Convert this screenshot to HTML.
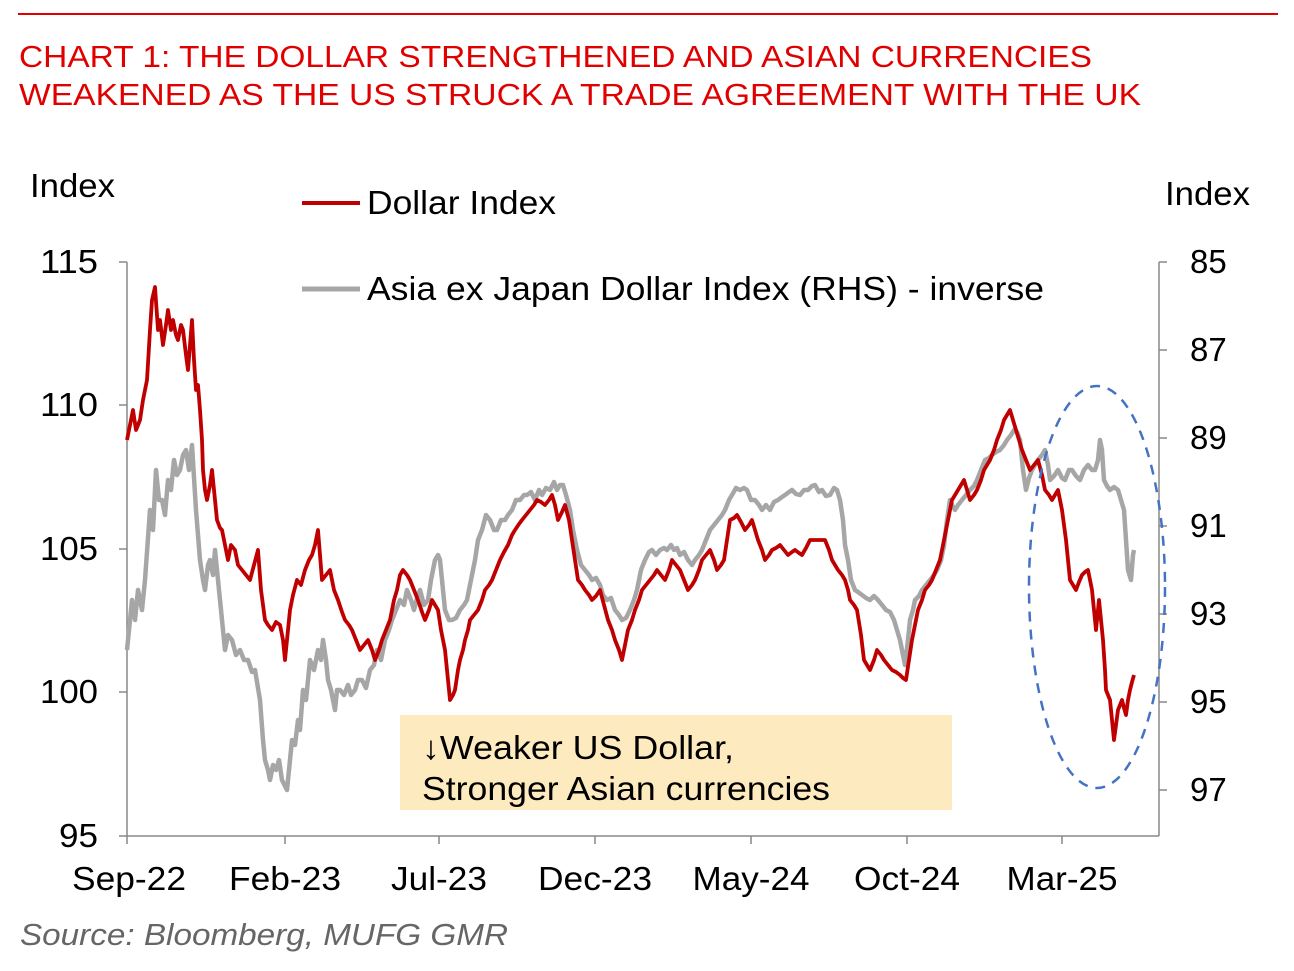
<!DOCTYPE html>
<html><head><meta charset="utf-8"><style>
body{margin:0;background:#fff;}
svg text{font-family:"Liberation Sans",Arial,sans-serif;}
</style></head><body>
<svg width="1294" height="966" viewBox="0 0 1294 966" xmlns="http://www.w3.org/2000/svg">
<line x1="18" y1="14" x2="1278" y2="14" stroke="#e00000" stroke-width="2"/>
<text x="19" y="67" font-size="31" fill="#e00000" textLength="1073" lengthAdjust="spacingAndGlyphs">CHART 1: THE DOLLAR STRENGTHENED AND ASIAN CURRENCIES</text>
<text x="19" y="105" font-size="31" fill="#e00000" textLength="1122" lengthAdjust="spacingAndGlyphs">WEAKENED AS THE US STRUCK A TRADE AGREEMENT WITH THE UK</text>
<rect x="400" y="715" width="552" height="95" fill="#fdebbf"/>
<text x="422" y="759" font-size="33" fill="#000" textLength="312" lengthAdjust="spacingAndGlyphs">↓Weaker US Dollar,</text>
<text x="422" y="800" font-size="33" fill="#000" textLength="408" lengthAdjust="spacingAndGlyphs">Stronger Asian currencies</text>
<g stroke="#888" stroke-width="1.5" fill="none">
<line x1="127" y1="262" x2="127" y2="836"/>
<line x1="127" y1="836" x2="1159" y2="836"/>
<line x1="1159" y1="262" x2="1159" y2="836"/>
<path d="M119 262H127M119 405H127M119 549H127M119 692H127M119 836H127"/>
<path d="M1159 262H1167M1159 350H1167M1159 438H1167M1159 526H1167M1159 614H1167M1159 702H1167M1159 790H1167"/>
<path d="M127 836V844M285 836V844M439 836V844M595 836V844M751 836V844M907 836V844M1062 836V844"/>
</g>
<g font-size="33" fill="#000">
<text x="98" y="273" text-anchor="end" textLength="58" lengthAdjust="spacingAndGlyphs">115</text>
<text x="98" y="416" text-anchor="end" textLength="58" lengthAdjust="spacingAndGlyphs">110</text>
<text x="98" y="560" text-anchor="end" textLength="58" lengthAdjust="spacingAndGlyphs">105</text>
<text x="98" y="703" text-anchor="end" textLength="58" lengthAdjust="spacingAndGlyphs">100</text>
<text x="98" y="847" text-anchor="end" textLength="39" lengthAdjust="spacingAndGlyphs">95</text>
<text x="1190" y="273">85</text>
<text x="1190" y="361">87</text>
<text x="1190" y="449">89</text>
<text x="1190" y="537">91</text>
<text x="1190" y="625">93</text>
<text x="1190" y="713">95</text>
<text x="1190" y="801">97</text>
<g text-anchor="middle">
<text x="129" y="890" textLength="114" lengthAdjust="spacingAndGlyphs">Sep-22</text>
<text x="285" y="890" textLength="112" lengthAdjust="spacingAndGlyphs">Feb-23</text>
<text x="439" y="890" textLength="96" lengthAdjust="spacingAndGlyphs">Jul-23</text>
<text x="595" y="890" textLength="114" lengthAdjust="spacingAndGlyphs">Dec-23</text>
<text x="751" y="890" textLength="117" lengthAdjust="spacingAndGlyphs">May-24</text>
<text x="907" y="890" textLength="106" lengthAdjust="spacingAndGlyphs">Oct-24</text>
<text x="1062" y="890" textLength="111" lengthAdjust="spacingAndGlyphs">Mar-25</text>
</g>
<text x="30" y="197" textLength="85" lengthAdjust="spacingAndGlyphs">Index</text>
<text x="1165" y="205" textLength="85" lengthAdjust="spacingAndGlyphs">Index</text>
<text x="367" y="214" textLength="189" lengthAdjust="spacingAndGlyphs">Dollar Index</text>
<text x="367" y="300" textLength="677" lengthAdjust="spacingAndGlyphs">Asia ex Japan Dollar Index (RHS) - inverse</text>
</g>
<line x1="302" y1="203" x2="360" y2="203" stroke="#c00000" stroke-width="4"/>
<line x1="302" y1="289" x2="360" y2="289" stroke="#a6a6a6" stroke-width="5"/>
<polyline fill="none" stroke="#a6a6a6" stroke-width="4.5" stroke-linejoin="round" points="127,650 132,600 135,620 138,590 142,610 145,580 150,510 153,530 156,470 159,500 162,500 165,515 168,480 171,490 174,460 177,475 180,470 183,455 186,450 189,470 192,445 196,510 200,560 203,580 205,590 208,565 210,560 213,575 215,550 218,580 220,600 223,630 225,650 228,635 232,640 236,655 240,650 244,660 248,660 252,672 255,670 260,700 263,740 265,760 268,770 270,780 273,765 276,770 279,760 282,780 287,790 290,760 292,740 295,745 298,720 300,730 303,690 306,700 310,660 314,670 318,650 321,660 323,640 326,660 328,680 331,690 335,710 337,690 340,690 344,695 348,685 351,695 355,690 358,680 362,680 366,688 370,670 374,665 377,650 381,660 385,640 389,630 392,620 396,610 400,600 404,605 407,590 411,600 414,610 417,598 420,590 424,605 428,600 431,580 435,560 438,555 440,560 443,590 445,610 449,620 452,620 456,618 460,610 464,605 467,600 471,580 475,560 478,540 482,530 486,515 490,520 494,530 497,530 501,520 505,520 508,515 512,510 516,500 520,500 524,495 527,495 531,492 535,500 539,490 542,495 546,488 550,490 554,482 557,490 560,485 563,485 566,495 570,510 573,530 577,550 581,565 585,570 589,575 592,580 596,578 600,585 603,595 607,600 611,598 615,610 619,615 622,620 626,618 630,610 634,600 637,590 641,570 645,560 649,552 652,550 656,555 660,550 664,548 667,550 671,545 674,550 677,548 680,555 684,552 688,560 692,565 695,560 699,555 702,550 706,540 710,530 714,525 718,520 722,515 725,510 729,500 732,495 736,488 740,490 744,488 747,490 751,500 755,500 759,505 762,510 766,505 770,510 774,502 778,500 782,497 785,495 789,492 792,490 796,494 800,495 804,490 808,490 812,486 815,485 819,492 822,490 826,496 830,495 834,488 837,490 840,500 843,520 845,545 848,560 851,580 855,590 858,592 862,595 866,598 870,600 874,596 878,600 882,605 886,610 890,612 894,620 897,630 900,640 903,655 905,665 908,640 910,620 913,610 915,600 919,596 922,590 926,585 930,580 934,575 937,570 941,560 944,545 947,520 950,500 952,505 955,510 958,505 962,500 966,495 970,490 974,486 977,480 981,470 985,460 989,458 992,455 996,452 1000,450 1004,445 1007,440 1011,435 1014,430 1017,432 1020,440 1023,470 1026,490 1029,478 1032,470 1035,465 1038,460 1042,455 1045,450 1048,465 1050,480 1054,476 1058,470 1062,478 1065,480 1069,470 1072,470 1076,476 1080,480 1084,470 1088,465 1092,470 1095,470 1098,460 1100,440 1102,450 1104,480 1107,486 1110,490 1114,487 1118,490 1121,500 1124,510 1126,540 1128,570 1131,580 1133,555 1134,550"/>
<polyline fill="none" stroke="#c00000" stroke-width="3.8" stroke-linejoin="round" points="127,440 130,425 133,410 136,430 140,420 143,400 147,380 150,330 152,300 155,287 158,330 160,320 163,345 166,325 168,310 171,330 173,320 176,335 178,340 181,325 183,330 186,355 188,370 190,345 192,320 194,360 196,390 198,385 200,410 202,440 203,470 205,490 207,500 210,485 212,470 215,500 217,520 220,528 222,530 225,545 228,560 231,545 235,550 238,565 242,570 246,575 250,580 254,565 258,550 261,590 265,620 268,625 272,630 276,622 280,625 283,640 285,660 288,630 290,610 293,595 297,580 301,585 305,570 309,560 312,555 315,545 318,530 320,555 322,580 326,575 330,570 334,590 338,600 342,612 345,620 349,625 352,630 356,640 360,650 364,645 368,640 372,650 375,660 379,650 382,640 386,630 390,620 394,600 397,590 400,575 403,570 407,575 410,580 414,590 418,600 422,612 425,620 429,610 432,600 435,605 438,610 441,630 445,650 448,680 450,700 453,695 455,690 458,670 460,660 463,650 465,640 468,630 470,620 474,615 478,610 482,600 485,590 489,585 492,580 496,570 500,560 504,552 508,545 512,535 515,530 519,524 522,520 526,515 530,510 534,505 537,500 541,502 545,505 549,500 552,495 555,505 558,520 562,512 565,505 569,520 572,540 575,560 578,580 582,585 585,590 589,595 592,600 596,596 600,590 604,605 608,620 612,630 615,640 619,650 622,660 625,645 628,630 632,620 635,610 639,600 642,590 646,585 650,580 654,575 657,570 661,575 665,580 669,570 672,560 676,565 680,570 684,580 688,590 692,585 695,580 699,570 702,560 706,555 710,550 714,560 717,570 721,565 724,560 727,540 730,520 734,518 737,515 741,522 745,530 749,525 752,520 755,530 758,540 762,550 765,560 769,555 772,550 776,548 780,545 784,550 788,555 792,552 795,550 799,553 802,555 806,548 810,540 814,540 818,540 822,540 825,540 829,550 832,560 835,565 838,570 842,575 845,580 848,590 850,600 854,605 857,610 861,635 864,660 867,665 870,670 874,660 877,650 881,655 884,660 888,665 892,670 896,672 900,675 903,678 906,680 909,660 912,640 915,625 918,610 922,600 925,590 929,585 932,580 936,570 940,560 943,545 946,530 949,515 952,500 955,495 958,490 961,485 964,480 967,490 970,500 974,495 977,490 981,480 984,470 987,465 990,460 994,450 997,440 1001,430 1004,420 1007,415 1010,410 1013,420 1016,430 1019,440 1022,450 1026,460 1030,470 1034,465 1038,460 1042,475 1045,490 1049,495 1052,500 1055,495 1058,490 1060,500 1062,510 1064,525 1066,540 1068,560 1070,580 1073,585 1076,590 1079,582 1082,575 1085,572 1088,570 1090,580 1092,590 1094,610 1096,630 1098,610 1099,600 1101,620 1103,640 1105,670 1106,690 1108,695 1110,700 1112,720 1114,740 1116,725 1118,710 1120,705 1122,700 1124,708 1126,715 1128,700 1130,690 1132,682 1134,675"/>
<ellipse cx="1097" cy="587" rx="68" ry="201" fill="none" stroke="#4472c4" stroke-width="2.5" stroke-dasharray="10,8"/>
<text x="20" y="945" font-size="31" font-style="italic" fill="#666" textLength="488" lengthAdjust="spacingAndGlyphs">Source: Bloomberg, MUFG GMR</text>
</svg>
</body></html>
